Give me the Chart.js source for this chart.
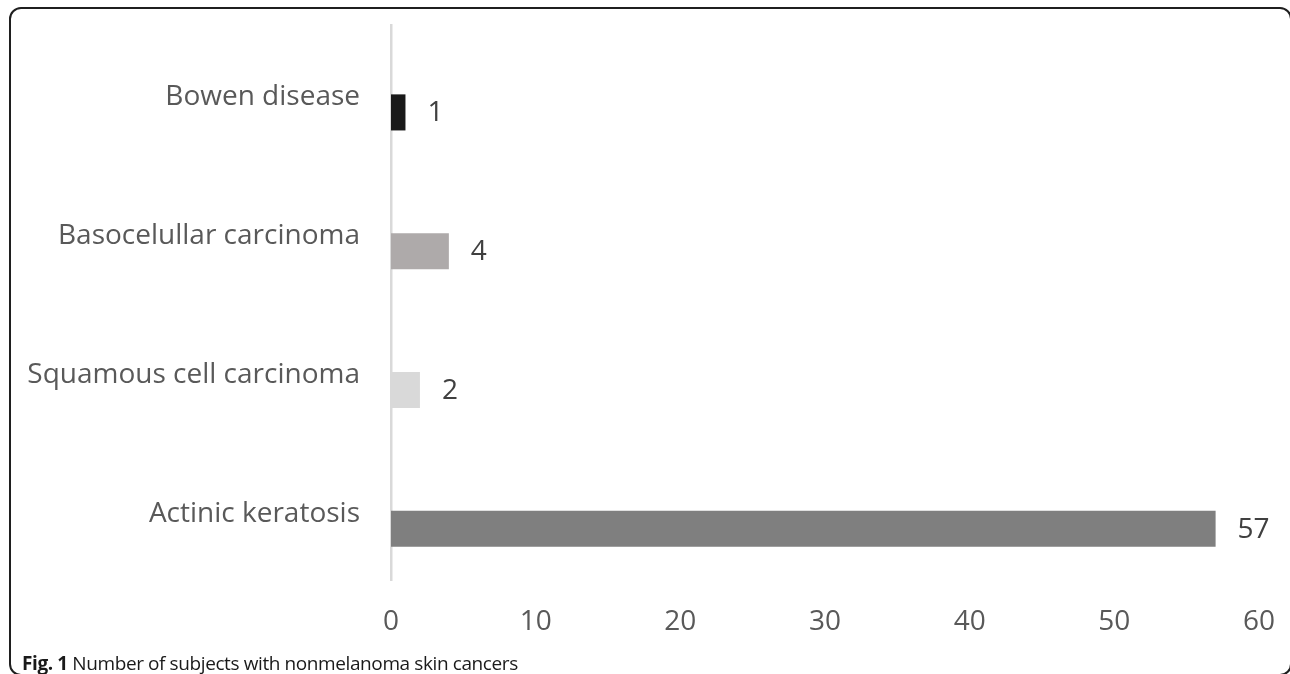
<!DOCTYPE html>
<html>
<head>
<meta charset="utf-8">
<script src="https://cdn.jsdelivr.net/npm/chart.js@4.4.1/dist/chart.umd.min.js"></script>
<style>
  html, body { margin: 0; padding: 0; background: #ffffff; }
  #wrap { position: relative; width: 1290px; height: 674px; overflow: hidden; }
  #frame {
    position: absolute; left: 9px; top: 7px; width: 1283px; height: 669px;
    box-sizing: border-box; border: 2px solid #1f1f1f; border-radius: 12px;
  }
  #chart { position: absolute; left: 0; top: 0; }
  #caption {
    position: absolute; left: 22px; top: 652px;
    font-family: "Open Sans", "Noto Sans", sans-serif; font-size: 19px;
    letter-spacing: -0.4px;
    color: #1a1a1a; white-space: nowrap; line-height: 22px;
  }
  #caption b { font-weight: 700; }
</style>
</head>
<body>
<div id="wrap">
  <div id="frame"></div>
  <canvas id="chart" width="1290" height="674"></canvas>
  <div id="caption"><b>Fig. 1</b> Number of subjects with nonmelanoma skin cancers</div>
</div>
<script>
// Diagnoses, listed from the top of the chart down
const categories = ['Bowen disease', 'Basocelullar carcinoma', 'Squamous cell carcinoma', 'Actinic keratosis'];
// Number of subjects per diagnosis
const subjects = [1, 4, 2, 57];
// Fill colour of each bar
const barColors = ['#191919', '#aeaaaa', '#d9d9d9', '#7f7f7f'];
// Value axis ticks
const xTicks = [0, 10, 20, 30, 40, 50, 60];

const FONT = '"Open Sans", "Noto Sans", sans-serif';

// Writes each bar's value just past its end
const valueLabels = {
  id: 'valueLabels',
  afterDatasetsDraw(chart) {
    const ctx = chart.ctx;
    const meta = chart.getDatasetMeta(1);
    ctx.save();
    ctx.font = '28px ' + FONT;
    ctx.fillStyle = '#404040';
    ctx.textAlign = 'left';
    ctx.textBaseline = 'middle';
    meta.data.forEach((bar, i) => {
      ctx.fillText(String(subjects[i]), bar.x + 22, bar.y + 1);
    });
    ctx.restore();
  }
};

// Let the layout padding alone decide where the plot area sits
function clearScalePadding(scale) {
  scale.paddingTop = 0;
  scale.paddingBottom = 0;
  scale.paddingLeft = 0;
  scale.paddingRight = 0;
}

new Chart(document.getElementById('chart'), {
  type: 'bar',
  data: {
    labels: categories,
    datasets: [
      { label: 'spacer', data: categories.map(() => null), backgroundColor: 'rgba(0,0,0,0)' },
      { label: 'Subjects', data: subjects, backgroundColor: barColors, borderWidth: 0 }
    ]
  },
  options: {
    indexAxis: 'y',
    responsive: false,
    animation: false,
    devicePixelRatio: 1,
    categoryPercentage: 0.52,
    barPercentage: 1.0,
    layout: { padding: { left: 0, top: 25, right: 31, bottom: 34 } },
    plugins: { legend: { display: false }, tooltip: { enabled: false } },
    scales: {
      x: {
        min: 0, max: 60,
        afterBuildTicks(scale) { scale.ticks = xTicks.map(v => ({ value: v })); },
        afterFit(scale) { scale.height = 60; clearScalePadding(scale); },
        grid: { display: false, drawTicks: false },
        border: { display: false },
        ticks: { color: '#595959', font: { family: FONT, size: 28 }, padding: 25, maxRotation: 0 }
      },
      y: {
        afterFit(scale) { scale.width = 391; clearScalePadding(scale); },
        grid: { display: false, drawTicks: false },
        border: { display: true, color: '#d9d9d9', width: 2.5 },
        ticks: { color: '#595959', font: { family: FONT, size: 28 }, padding: 31, labelOffset: 3 }
      }
    }
  },
  plugins: [valueLabels]
});
</script>
</body>
</html>
